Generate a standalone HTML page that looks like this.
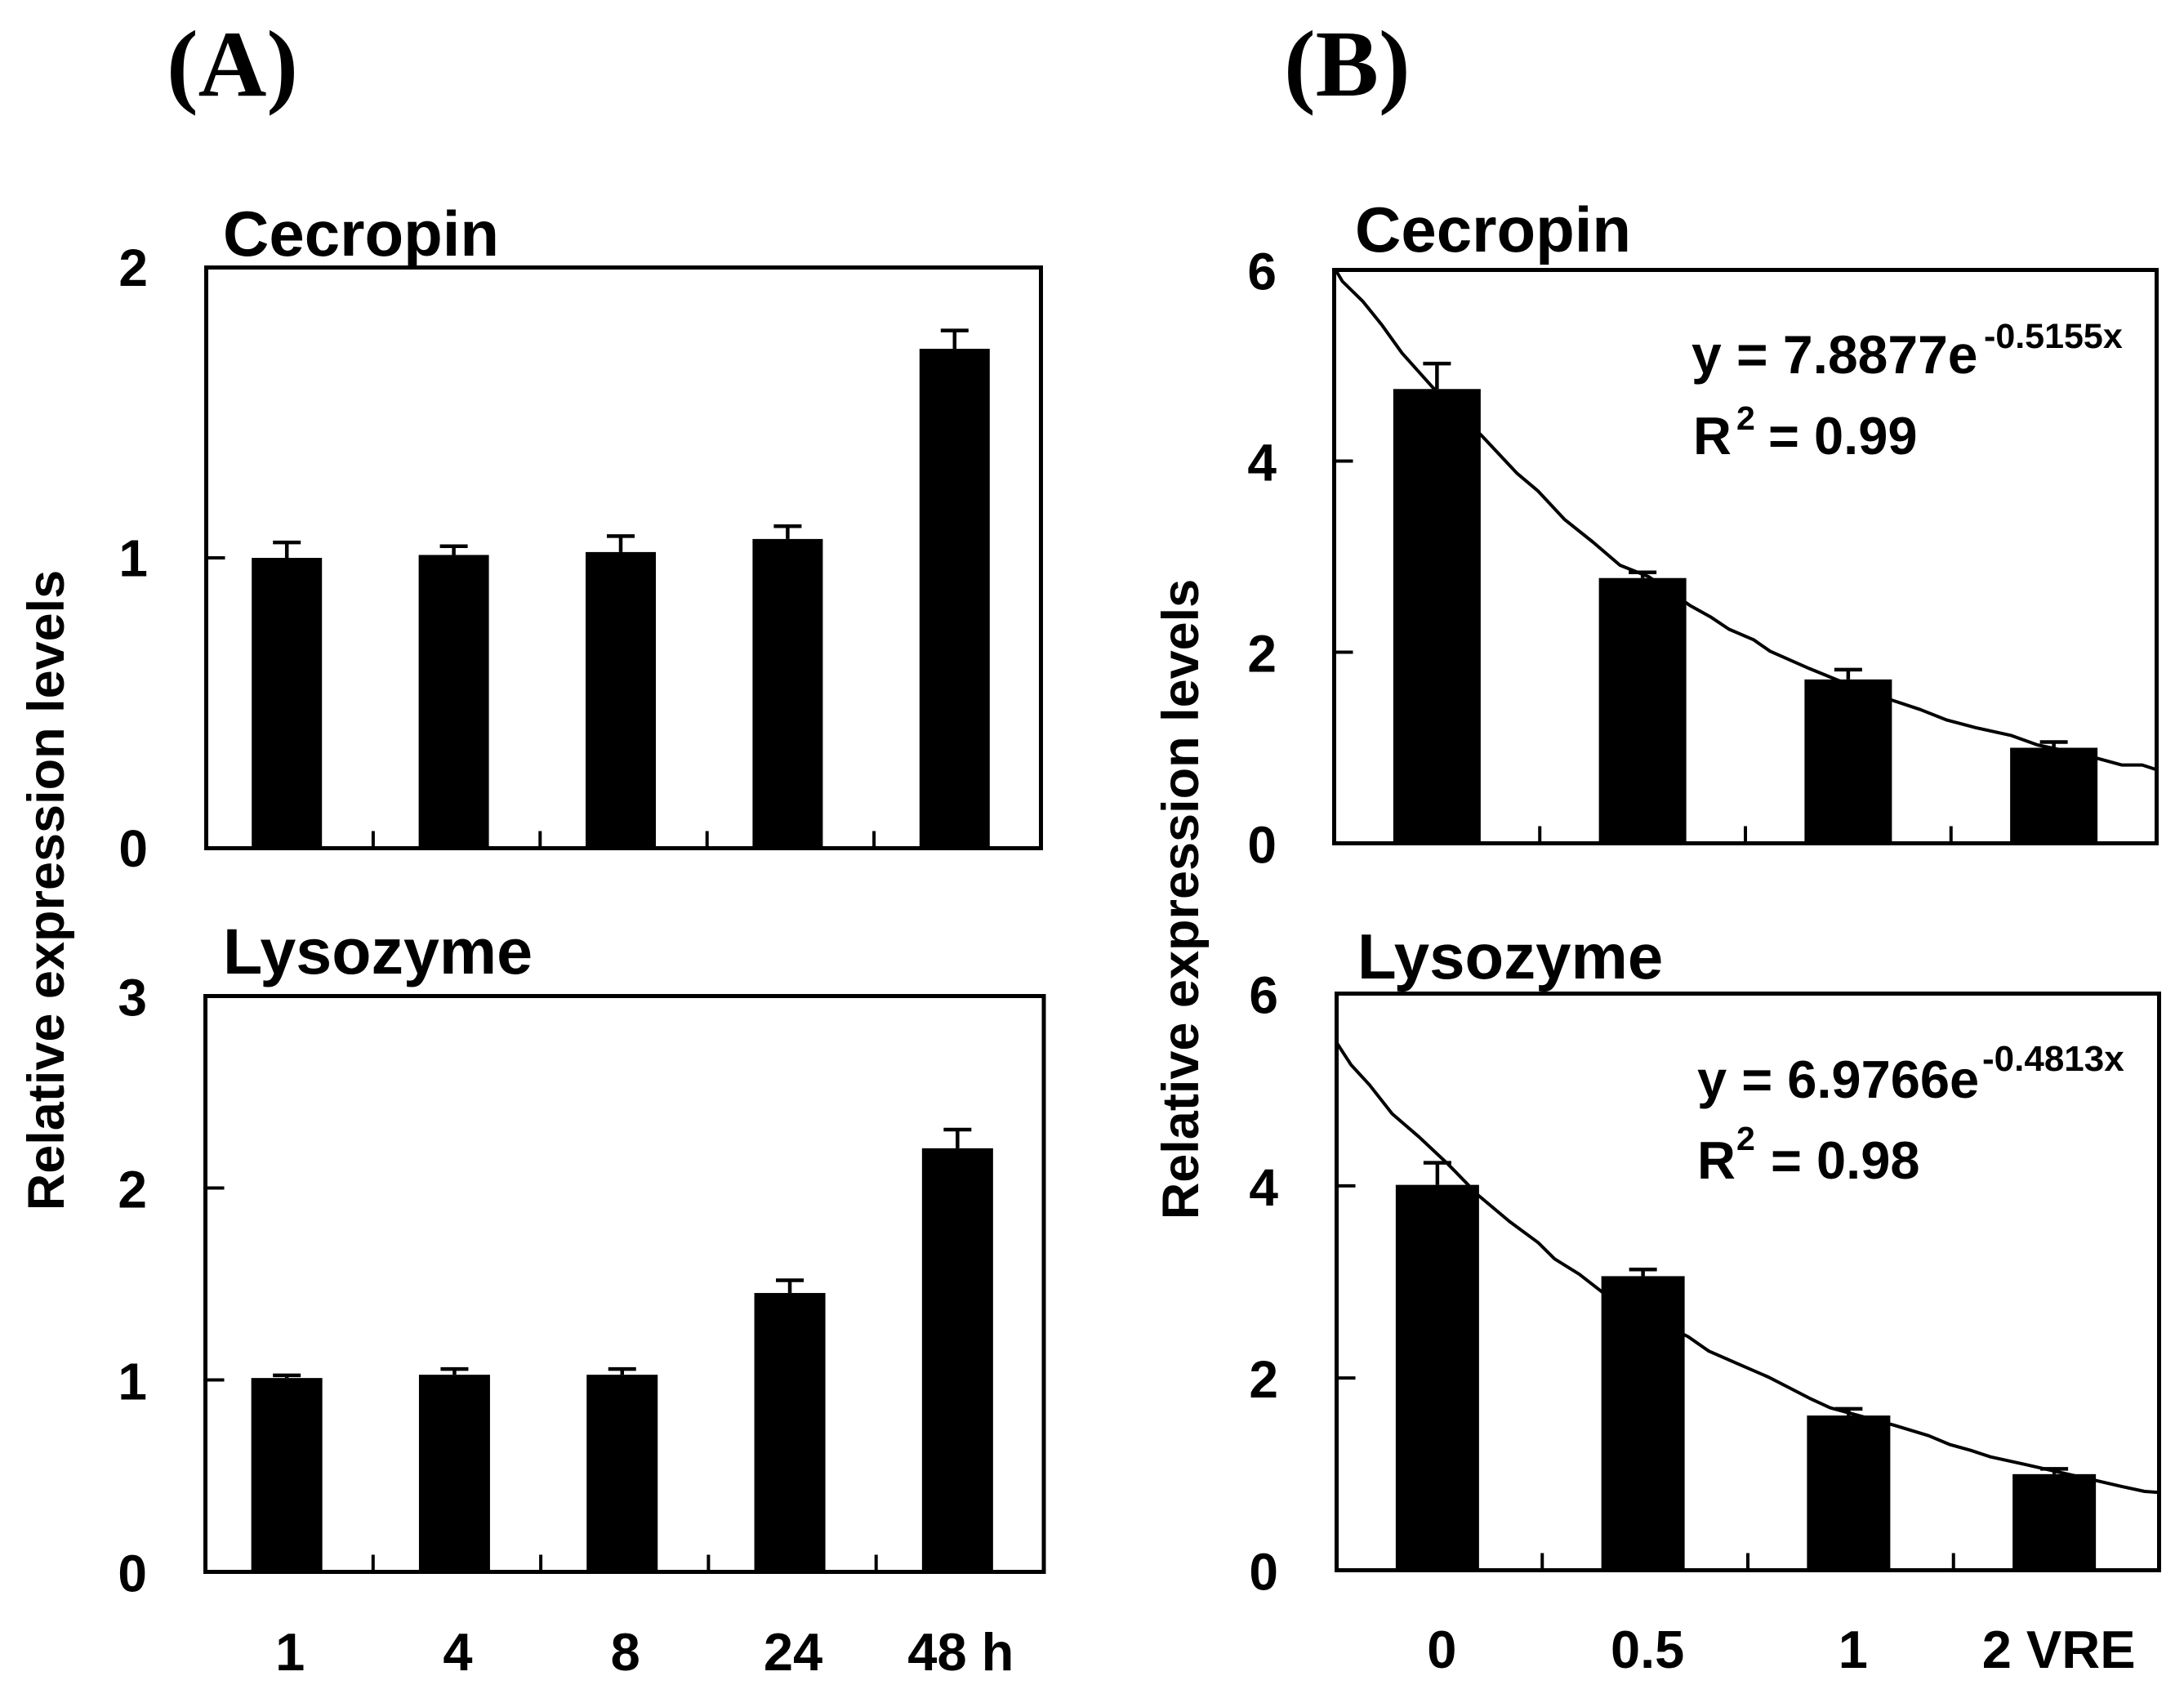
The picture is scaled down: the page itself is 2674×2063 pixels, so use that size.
<!DOCTYPE html>
<html>
<head>
<meta charset="utf-8">
<title>Relative expression levels of Cecropin and Lysozyme</title>
<style>
html,body{margin:0;padding:0;background:#fff;}
svg{display:block;}
text{font-family:"Liberation Sans",sans-serif;font-weight:bold;fill:#000;}
.serif{font-family:"Liberation Serif",serif;font-size:116px;}
.title{font-size:78px;}
.tick{font-size:64px;}
.xlab{font-size:65px;}
.axt{font-size:63px;}
.eq{font-size:65px;}
.sup{font-size:41px;}
.sup1{font-size:43px;}
.sup2{font-size:44px;}
</style>
</head>
<body>
<svg id="chart" xmlns="http://www.w3.org/2000/svg" width="2674" height="2063" viewBox="0 0 2674 2063">
<rect x="0" y="0" width="2674" height="2063" fill="#fff"/>
<text class="serif" x="204" y="117">(A)</text>
<text class="serif" x="1572" y="117">(B)</text>
<text class="title" x="273" y="313">Cecropin</text>
<text class="title" x="273" y="1192" style="font-size:79px">Lysozyme</text>
<text class="title" x="1659" y="308">Cecropin</text>
<text class="title" x="1662" y="1198">Lysozyme</text>
<text class="axt" text-anchor="middle" transform="translate(78 1090) rotate(-90)">Relative expression levels</text>
<text class="axt" text-anchor="middle" transform="translate(1467 1101) rotate(-90)">Relative expression levels</text>
<text class="eq" x="2071" y="457" style="font-size:66px">y = 7.8877e</text>
<text class="sup1" x="2429" y="426">-0.5155x</text>
<text class="eq" x="2073" y="556">R</text>
<text class="sup" x="2126" y="526">2</text>
<text class="eq" x="2165" y="556">= 0.99</text>
<text class="eq" x="2078" y="1344">y = 6.9766e</text>
<text class="sup2" x="2427" y="1311">-0.4813x</text>
<text class="eq" x="2078" y="1443">R</text>
<text class="sup" x="2126" y="1408">2</text>
<text class="eq" x="2168" y="1443">= 0.98</text>
</svg>
<script>
// Time course (panel A)
var timeLabels = ["1", "4", "8", "24", "48 h"];
var aCecropinValues = [1.00, 1.01, 1.02, 1.065, 1.72];
var aCecropinUpper = [1.053, 1.04, 1.075, 1.109, 1.783];
var aCecropinTicks = [0, 1, 2];
var aLysozymeValues = [1.01, 1.027, 1.027, 1.453, 2.207];
var aLysozymeUpper = [1.024, 1.057, 1.057, 1.519, 2.304];
var aLysozymeTicks = [0, 1, 2, 3];

// Dose response (panel B)
var doseLabels = ["0", "0.5", "1", "2 VRE"];
var bCecropinValues = [4.754, 2.776, 1.715, 1.0];
var bCecropinUpper = [5.02, 2.835, 1.817, 1.06];
var bLysozymeValues = [4.01, 3.06, 1.61, 1.0];
var bLysozymeUpper = [4.24, 3.13, 1.68, 1.055];
var bTicks = [0, 2, 4, 6];

// Trendlines (category position, value)
var bCecropinTrendX = [0.507,0.54,0.64,0.73,0.83,0.98,1.22,1.39,1.49,1.62,1.76,1.89,2.03,2.23,2.33,2.42,2.54,2.62,2.81,2.98,3.21,3.35,3.48,3.62,3.79,3.92,4.16,4.33,4.43,4.50];
var bCecropinTrendY = [6.00,5.88,5.67,5.43,5.13,4.77,4.26,3.87,3.69,3.39,3.15,2.91,2.79,2.49,2.37,2.24,2.13,2.01,1.83,1.68,1.50,1.40,1.29,1.21,1.13,1.03,0.92,0.82,0.82,0.77];
var bLysozymeTrendX = [0.50,0.57,0.66,0.77,0.90,1.04,1.19,1.34,1.48,1.56,1.68,1.80,2.21,2.31,2.46,2.60,2.70,2.80,2.90,3.21,3.38,3.48,3.58,3.68,3.85,4.20,4.32,4.43,4.50];
var bLysozymeTrendY = [5.49,5.26,5.05,4.75,4.51,4.23,3.90,3.63,3.41,3.24,3.08,2.88,2.43,2.28,2.14,2.01,1.90,1.79,1.69,1.51,1.40,1.31,1.25,1.18,1.10,0.93,0.87,0.82,0.81];

var NS = "http://www.w3.org/2000/svg";
var root = document.getElementById("chart");

function make(tag, attrs, text) {
  var el = document.createElementNS(NS, tag);
  for (var k in attrs) { el.setAttribute(k, attrs[k]); }
  if (text !== undefined) { el.textContent = text; }
  root.appendChild(el);
  return el;
}

function drawPanel(p) {
  var maxV = p.ticks[p.ticks.length - 1];
  var band = (p.right - p.left) / p.values.length;
  function xScale(c) { return p.left + (c - 0.5) * band; }
  function yScale(v) { return p.bottom - (v / maxV) * (p.bottom - p.top); }

  // trendline sits behind the bars
  if (p.trendX) {
    var pts = p.trendX.map(function (c, i) { return xScale(c).toFixed(1) + "," + yScale(p.trendY[i]).toFixed(1); }).join(" ");
    var trend = make("polyline", { points: pts, fill: "none", stroke: "#000", "stroke-width": 4, "stroke-linejoin": "round" });
    
    
  }

  // y ticks and labels
  p.ticks.forEach(function (t) {
    var y = yScale(t);
    if (t !== 0 && t !== maxV) {
      var tk = make("line", { x1: p.left, x2: p.left + 23, y1: y, y2: y, stroke: "#000", "stroke-width": 4 });
      
      
    }
    var lab = make("text", { x: p.labelRight, y: y + p.labelDy, "text-anchor": "end", "class": "tick" }, String(t));
    
    
  });

  // x ticks
  for (var i = 1; i < p.values.length; i++) {
    var xt = p.left + i * band;
    var xk = make("line", { x1: xt, x2: xt, y1: p.bottom, y2: p.bottom - 21, stroke: "#000", "stroke-width": 4 });
    
    
  }

  // bars and error bars
  p.values.forEach(function (v, i) {
    var cx = xScale(i + 1) + p.shift;
    var bar = make("rect", { x: cx - p.barW / 2, y: yScale(v), width: p.barW, height: p.bottom - yScale(v), fill: "#000" });
    
    
    var stem = make("line", { x1: cx, x2: cx, y1: yScale(v), y2: yScale(p.upper[i]), stroke: "#000", "stroke-width": 4.5 });
    
    
    var cap = make("line", { x1: cx - 17, x2: cx + 17, y1: yScale(p.upper[i]), y2: yScale(p.upper[i]), stroke: "#000", "stroke-width": 4.5 });
    
    
  });

  // frame
  var frame = make("rect", { x: p.left, y: p.top, width: p.right - p.left, height: p.bottom - p.top, fill: "none", stroke: "#000", "stroke-width": 5 });
  
  

  // category labels
  if (p.labels) {
    p.labels.forEach(function (t, i) {
      var lx = make("text", { x: xScale(i + 1) + p.labelShift, y: p.labelY, "text-anchor": "middle", "class": "xlab" }, t);
      
      
    });
  }
}

drawPanel({ name: "a-cecropin", left: 252.5, right: 1274.5, top: 327.5, bottom: 1038.5, barW: 86, shift: -3.5,
  values: aCecropinValues, upper: aCecropinUpper, ticks: aCecropinTicks, labelRight: 181, labelDy: 22.5 });
drawPanel({ name: "a-lysozyme", left: 251.5, right: 1278, top: 1219.5, bottom: 1924.5, barW: 87, shift: -3,
  values: aLysozymeValues, upper: aLysozymeUpper, ticks: aLysozymeTicks, labelRight: 180, labelDy: 24,
  labels: timeLabels, labelY: 2045, labelShift: 1 });
drawPanel({ name: "b-cecropin", left: 1633.5, right: 2640.5, top: 330.5, bottom: 1032.5, barW: 107, shift: 0,
  values: bCecropinValues, upper: bCecropinUpper, ticks: bTicks, labelRight: 1563, labelDy: 24,
  trendX: bCecropinTrendX, trendY: bCecropinTrendY });
drawPanel({ name: "b-lysozyme", left: 1636.5, right: 2643.5, top: 1216.5, bottom: 1922.5, barW: 102, shift: -2.5,
  values: bLysozymeValues, upper: bLysozymeUpper, ticks: bTicks, labelRight: 1565, labelDy: 24,
  trendX: bLysozymeTrendX, trendY: bLysozymeTrendY,
  labels: doseLabels, labelY: 2042, labelShift: 3 });
</script>
</body>
</html>
